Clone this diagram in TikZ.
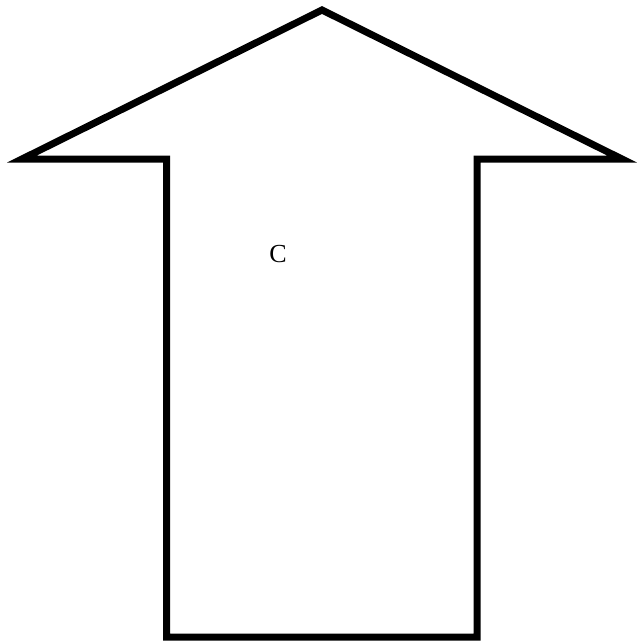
\documentclass[tikz,border=0pt]{standalone}
\usepackage{fontspec}
\setmainfont{Liberation Serif}
\begin{document}
\begin{tikzpicture}[x=1pt,y=-1pt,
  arrowshape/.style={draw=black,line width=7pt,miter limit=10,line join=miter,fill=white},
  lbl/.style={font=\fontsize{26}{30}\selectfont,inner sep=0pt}]
\useasboundingbox (0,0) rectangle (637,641);
\draw[arrowshape] (322,10) -- (622,159) -- (477,159) -- (477,637) -- (166.5,637) -- (166.5,159) -- (22,159) -- cycle;
\node[lbl] (c) at (278,254) {C};
\end{tikzpicture}
\end{document}
